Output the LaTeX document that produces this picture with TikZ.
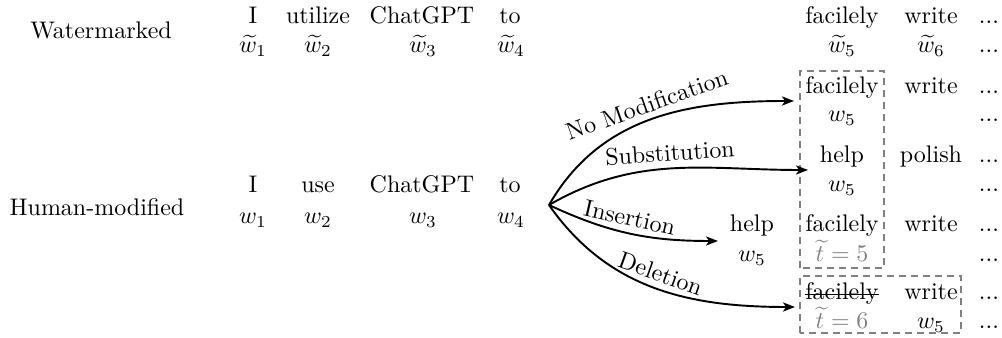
\documentclass[tikz,border=0pt]{standalone}
\usetikzlibrary{arrows.meta}
\begin{document}
\begin{tikzpicture}[x=0.4167pt,y=0.4167pt,
  wd/.style={inner sep=0pt, anchor=base},
  gr/.style={wd, text=gray},
  box/.style={draw=gray, dash pattern=on 3pt off 2pt, line width=0.5pt},
  arr/.style={-{Stealth[length=5pt,width=3.8pt,inset=1.3pt]}, line width=0.8pt},
  lbl/.style={sloped, above, inner sep=2.5pt}]
\useasboundingbox (0,0) rectangle (1002,338);
% labels
\node[wd] (lw) at (101,299) {Watermarked};
\node[wd] (lh) at (97,122) {Human-modified};
% watermarked row
\node[wd] (a1) at (253,314) {I};
\node[wd] (a2) at (318,314) {utilize};
\node[wd] (a3) at (422,314) {ChatGPT};
\node[wd] (a4) at (510,314) {to};
\node[wd] (aw1) at (253,285) {$\widetilde{w}_1$};
\node[wd] (aw2) at (318,285) {$\widetilde{w}_2$};
\node[wd] (aw3) at (423,285) {$\widetilde{w}_3$};
\node[wd] (aw4) at (511,285) {$\widetilde{w}_4$};
\node[wd] (a5) at (842,314) {facilely};
\node[wd] (a6) at (931,314) {write};
\node[wd] (a7) at (989,314) {...};
\node[wd] (aw5) at (842,285) {$\widetilde{w}_5$};
\node[wd] (aw6) at (931,285) {$\widetilde{w}_6$};
\node[wd] (aw7) at (989,285) {...};
% human row
\node[wd] (b1) at (253,145) {I};
\node[wd] (b2) at (318,145) {use};
\node[wd] (b3) at (422,145) {ChatGPT};
\node[wd] (b4) at (510,145) {to};
\node[wd] (bw1) at (253,114) {$w_1$};
\node[wd] (bw2) at (318,114) {$w_2$};
\node[wd] (bw3) at (423,114) {$w_3$};
\node[wd] (bw4) at (511,114) {$w_4$};
% no modification
\node[wd] (n1) at (842,244) {facilely};
\node[wd] (n2) at (931,244) {write};
\node[wd] (n3) at (989,244) {...};
\node[wd] (nw1) at (842,216) {$w_5$};
\node[wd] (nw3) at (989,216) {...};
% substitution
\node[wd] (s1) at (842,175) {help};
\node[wd] (s2) at (931,175) {polish};
\node[wd] (s3) at (989,175) {...};
\node[wd] (sw1) at (842,146) {$w_5$};
\node[wd] (sw3) at (989,146) {...};
% insertion
\node[wd] (i0) at (752,106) {help};
\node[wd] (iw0) at (752,76) {$w_5$};
\node[wd] (i1) at (842,106) {facilely};
\node[wd] (i2) at (931,106) {write};
\node[wd] (i3) at (989,106) {...};
\node[gr] (iw1) at (842,76) {$\widetilde{t}=5$};
\node[wd] (iw3) at (989,76) {...};
% deletion
\node[wd] (d1) at (842,38) {facilely};
\draw[line width=0.4pt] ([yshift=2.4pt]d1.base west) -- ([yshift=2.4pt]d1.base east);
\node[wd] (d2) at (931,38) {write};
\node[wd] (d3) at (989,38) {...};
\node[gr] (dw1) at (842,9) {$\widetilde{t}=6$};
\node[wd] (dw2) at (931,9) {$w_5$};
\node[wd] (dw3) at (989,9) {...};
% boxes
\draw[box] (800,70) rectangle (884,267);
\draw[box] (800,5) rectangle (961,62);
% arrows
\coordinate (o) at (549,133);
\coordinate (enm) at (794,237);
\coordinate (esub) at (808,168);
\coordinate (eins) at (718,97);
\coordinate (edel) at (795,31);
\draw[arr] (o) to[out=60,in=180] node[lbl,pos=0.5] {No Modification} (enm);
\draw[arr] (o) to[out=30,in=180] node[lbl,pos=0.49] {Substitution} (esub);
\draw[arr] (o) to[out=-25,in=180] node[lbl,pos=0.47] {Insertion} (eins);
\draw[arr] (o) to[out=-55,in=180] node[lbl,pos=0.5] {Deletion} (edel);
\end{tikzpicture}
\end{document}
